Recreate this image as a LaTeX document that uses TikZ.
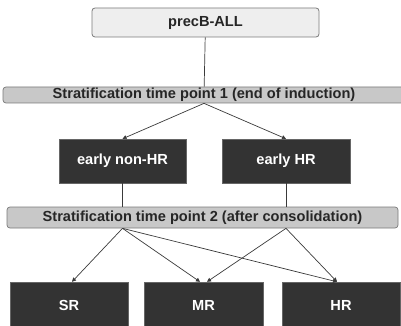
\documentclass[tikz,border=0pt]{standalone}
\usepackage{fontspec}
\setsansfont{Liberation Sans}
\usetikzlibrary{arrows.meta, positioning, calc}

\definecolor{boxdark}{HTML}{333333}
\definecolor{tpgray}{HTML}{C8C8C8}
\definecolor{toplight}{HTML}{EEEEEE}
\definecolor{edgegray}{HTML}{7A7A7A}
\definecolor{linegray}{HTML}{3A3A3A}

\begin{document}
\begin{tikzpicture}[
    x=1pt, y=-1pt, >={Triangle[length=4pt, width=4pt]},
    lbl/.style={font=\sffamily\bfseries\fontsize{14.6}{16}\selectfont,
                inner sep=0pt, text centered},
    topbox/.style={lbl, draw=edgegray, rounded corners=3pt, fill=toplight,
                   text=black!85, line width=0.8pt},
    tpbar/.style={lbl, draw=edgegray, rounded corners=3pt, fill=tpgray,
                  text=black!85, line width=0.7pt},
    group/.style={lbl, fill=boxdark, text=white, draw=black!60,
                  line width=0.4pt},
    link/.style={draw=linegray, line width=0.7pt}
  ]
  \useasboundingbox (0,0) rectangle (401,326);

  \node[topbox, minimum width=227pt, minimum height=29pt] (all)
    at (205.5,22.5) {precB-ALL};
  \node[tpbar, minimum width=402pt, minimum height=16pt] (tp1)
    at (204,95) {Stratification time point 1 (end of induction)};

  \node[group, minimum width=127pt, minimum height=44pt] (enhr)
    at (122.5,161) {early non-HR};
  \node[group, minimum width=128pt, minimum height=44pt] (ehr)
    at (286,161) {early HR};

  \node[tpbar, minimum width=391pt, minimum height=21pt] (tp2)
    at (202.5,217.5) {Stratification time point 2 (after consolidation)};

  \node[group, minimum width=118pt, minimum height=46pt] (sr)
    at (69,305) {SR};
  \node[group, minimum width=119pt, minimum height=46pt] (mr)
    at (203.5,305) {MR};
  \node[group, minimum width=118pt, minimum height=46pt] (hr)
    at (341,305) {HR};

  % where the paths leave the second bar
  \coordinate (l2) at (enhr.south |- tp2.south);
  \coordinate (r2) at (ehr.south |- tp2.south);

  \draw[link] (all) -- (tp1);
  \draw[link, ->] (tp1.south) -- (enhr.north);
  \draw[link, ->] (tp1.south) -- (ehr.north);
  \draw[link] (enhr.south) -- (enhr.south |- tp2.north);
  \draw[link] (ehr.south) -- (ehr.south |- tp2.north);

  \draw[link, ->] (l2) -- ($(sr.north)+(3,0)$);
  \draw[link, ->] (l2) -- ($(mr.north)+(-3.5,0)$);
  \draw[link, ->] (l2) -- ($(hr.north)+(-4,0)$);
  \draw[link, ->] (r2) -- ($(mr.north)+(3.5,0)$);
  \draw[link, ->] (r2) -- ($(hr.north)+(-4,0)$);
\end{tikzpicture}
\end{document}
